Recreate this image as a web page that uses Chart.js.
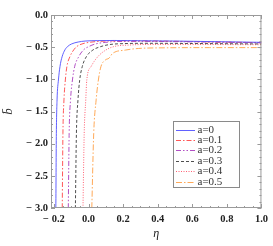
<!DOCTYPE html>
<html>
<head>
<meta charset="utf-8">
<script src="https://cdn.jsdelivr.net/npm/chart.js@4"></script>
<style>
  html, body { margin: 0; padding: 0; background: #fff; }
  canvas { display: block; }
</style>
</head>
<body>
<canvas id="c" width="273" height="246"></canvas>
<script>
// Series names (parameter a)
const labels = ["a=0", "a=0.1", "a=0.2", "a=0.3", "a=0.4", "a=0.5"];

// eta / b-bar pairs, one pair of arrays per curve
const etaA0 = [-0.189, -0.186, -0.182, -0.174, -0.165, -0.153, -0.136, -0.121, -0.098, -0.06, -0.02, 0.05, 0.15, 0.3, 0.5, 0.75, 1.0];
const bA0   = [-3.0, -1.84, -1.32, -1.01, -0.80, -0.65, -0.54, -0.49, -0.45, -0.42, -0.405, -0.398, -0.396, -0.40, -0.405, -0.415, -0.425];

const etaA1 = [-0.152, -0.148, -0.142, -0.134, -0.125, -0.108, -0.085, -0.068, -0.032, 0.02, 0.1, 0.2, 0.4, 0.7, 1.0];
const bA1   = [-3.0, -1.84, -1.32, -1.01, -0.80, -0.65, -0.54, -0.49, -0.445, -0.42, -0.405, -0.40, -0.405, -0.418, -0.43];

const etaA2 = [-0.117, -0.112, -0.104, -0.093, -0.08, -0.057, -0.028, 0.002, 0.04, 0.1, 0.17, 0.3, 0.6, 1.0];
const bA2   = [-3.0, -1.84, -1.32, -1.01, -0.80, -0.65, -0.54, -0.49, -0.45, -0.425, -0.412, -0.41, -0.418, -0.432];

const etaA3 = [-0.076, -0.07, -0.061, -0.051, -0.036, -0.013, 0.025, 0.072, 0.12, 0.2, 0.35, 0.6, 1.0];
const bA3   = [-3.0, -1.84, -1.32, -1.01, -0.80, -0.65, -0.545, -0.49, -0.46, -0.445, -0.44, -0.443, -0.45];

const etaA4 = [-0.032, -0.025, -0.016, -0.01, 0.015, 0.053, 0.10, 0.148, 0.233, 0.35, 0.6, 1.0];
const bA4   = [-3.0, -1.84, -1.32, -1.01, -0.80, -0.65, -0.545, -0.49, -0.467, -0.458, -0.458, -0.462];

const etaA5 = [0.019, 0.03, 0.044, 0.057, 0.072, 0.097, 0.119, 0.138, 0.214, 0.29, 0.45, 0.7, 1.0];
const bA5   = [-3.0, -1.84, -1.32, -1.01, -0.80, -0.70, -0.67, -0.60, -0.545, -0.52, -0.51, -0.507, -0.507];

// Axis ticks
const xMajor = [-0.2, 0.0, 0.2, 0.4, 0.6, 0.8, 1.0];
const yMajor = [0.0, -0.5, -1.0, -1.5, -2.0, -2.5, -3.0];
const xMinorStep = 0.05;
const yMinorStep = 0.1;

const series = [
  [etaA0, bA0, "rgba(80,80,255,0.9)", []],
  [etaA1, bA1, "rgba(255,70,70,0.9)", [5, 2, 1.5, 2]],
  [etaA2, bA2, "rgba(170,60,190,0.9)", [5, 2, 1.5, 2, 1.5, 2]],
  [etaA3, bA3, "rgba(60,60,60,0.9)", [3, 2]],
  [etaA4, bA4, "rgba(255,80,100,0.9)", [1, 1.5]],
  [etaA5, bA5, "rgba(255,160,70,0.9)", [6, 2, 1.5, 2]],
];

const datasets = series.map(([xs, ys, color, dash], i) => ({
  label: labels[i],
  data: xs.map((x, j) => ({ x, y: ys[j] })),
  borderColor: color,
  borderDash: dash,
  borderWidth: 1,
  pointRadius: 0,
  fill: false,
  cubicInterpolationMode: "monotone",
}));

function isMajor(v, step) {
  const r = v / step;
  return Math.abs(r - Math.round(r)) < 1e-6;
}
function fmtTick(v) {
  if (Math.abs(v) < 1e-9) return "0.0";
  const s = Math.abs(v).toFixed(1);
  return v < 0 ? "\u2212 " + s : s;
}
function stepTicks(lo, hi, step) {
  const out = [];
  for (let k = Math.ceil(lo / step - 1e-9); k * step <= hi + 1e-9; k++) out.push(+(k * step).toFixed(4));
  return out;
}

// Mathematica-style frame with inward ticks, plus the framed legend
const framePlugin = {
  id: "frame",
  afterDraw(chart) {
    const { ctx, chartArea: ca } = chart;
    const xs = chart.scales.x, ys = chart.scales.y;
    ctx.save();
    ctx.strokeStyle = "#9a9a9a";
    ctx.lineWidth = 1;
    ctx.strokeRect(ca.left + 0.5, ca.top + 0.5, ca.right - ca.left - 1, ca.bottom - ca.top - 1);
    ctx.beginPath();
    xs.ticks.forEach(t => {
      const px = Math.round(xs.getPixelForValue(t.value)) + 0.5;
      const len = isMajor(t.value, 0.2) ? 4 : 2;
      ctx.moveTo(px, ca.bottom); ctx.lineTo(px, ca.bottom - len);
      ctx.moveTo(px, ca.top); ctx.lineTo(px, ca.top + len);
    });
    ys.ticks.forEach(t => {
      const py = Math.round(ys.getPixelForValue(t.value)) + 0.5;
      const len = isMajor(t.value, 0.5) ? 4 : 2;
      ctx.moveTo(ca.left, py); ctx.lineTo(ca.left + len, py);
      ctx.moveTo(ca.right, py); ctx.lineTo(ca.right - len, py);
    });
    ctx.stroke();

    // legend box
    const bx = 173, by = 121, bw = 66, bh = 66;
    ctx.fillStyle = "#fff";
    ctx.fillRect(bx, by, bw, bh);
    ctx.strokeStyle = "#8a8a8a";
    ctx.strokeRect(bx + 0.5, by + 0.5, bw, bh);
    ctx.font = "11px 'Liberation Serif', serif";
    ctx.textBaseline = "middle";
    chart.data.datasets.forEach((d, i) => {
      const y = Math.round(by + 8.5 + i * 10.4) + 0.5;
      ctx.strokeStyle = d.borderColor;
      ctx.setLineDash(d.borderDash);
      ctx.beginPath(); ctx.moveTo(176, y); ctx.lineTo(195, y); ctx.stroke();
      ctx.setLineDash([]);
      ctx.fillStyle = "#333";
      ctx.fillText(d.label, 197.5, y);
    });
    ctx.restore();
  },
};

const tickFont = { family: "'Liberation Serif', serif", size: 10.5, weight: "bold" };

new Chart(document.getElementById("c"), {
  type: "line",
  data: { datasets },
  plugins: [framePlugin],
  options: {
    responsive: false,
    devicePixelRatio: 1,
    animation: false,
    layout: { padding: { top: 15, right: 7, left: 0, bottom: 0 } },
    plugins: { legend: { display: false }, tooltip: { enabled: false } },
    scales: {
      x: {
        type: "linear",
        min: -0.217, max: 1.0,
        afterBuildTicks: s => { s.ticks = stepTicks(-0.2, 1.0, xMinorStep).map(value => ({ value })); },
        afterFit: s => { s.height = 38; },
        grid: { display: false, drawTicks: false },
        border: { display: false },
        ticks: {
          autoSkip: false, maxRotation: 0, padding: 5, color: "#222", font: tickFont,
          callback: v => xMajor.some(m => Math.abs(m - v) < 1e-6) ? fmtTick(v) : "",
        },
        title: {
          display: true, text: "\u03b7", color: "#222",
          font: { family: "'Liberation Serif', serif", size: 12, style: "italic" },
          padding: { top: 0, bottom: 5 },
        },
      },
      y: {
        type: "linear",
        min: -3.0, max: 0.0,
        afterBuildTicks: s => { s.ticks = stepTicks(-3.0, 0.0, yMinorStep).map(value => ({ value })); },
        afterFit: s => { s.width = 51; },
        grid: { display: false, drawTicks: false },
        border: { display: false },
        ticks: {
          autoSkip: false, padding: 3, color: "#222", font: tickFont,
          callback: v => yMajor.some(m => Math.abs(m - v) < 1e-6) ? fmtTick(v) : "",
        },
        title: {
          display: true, text: "b\u0304", color: "#222",
          font: { family: "'Liberation Serif', serif", size: 13, style: "italic" },
          padding: { top: 1, bottom: 0 },
        },
      },
    },
  },
});
</script>
</body>
</html>
